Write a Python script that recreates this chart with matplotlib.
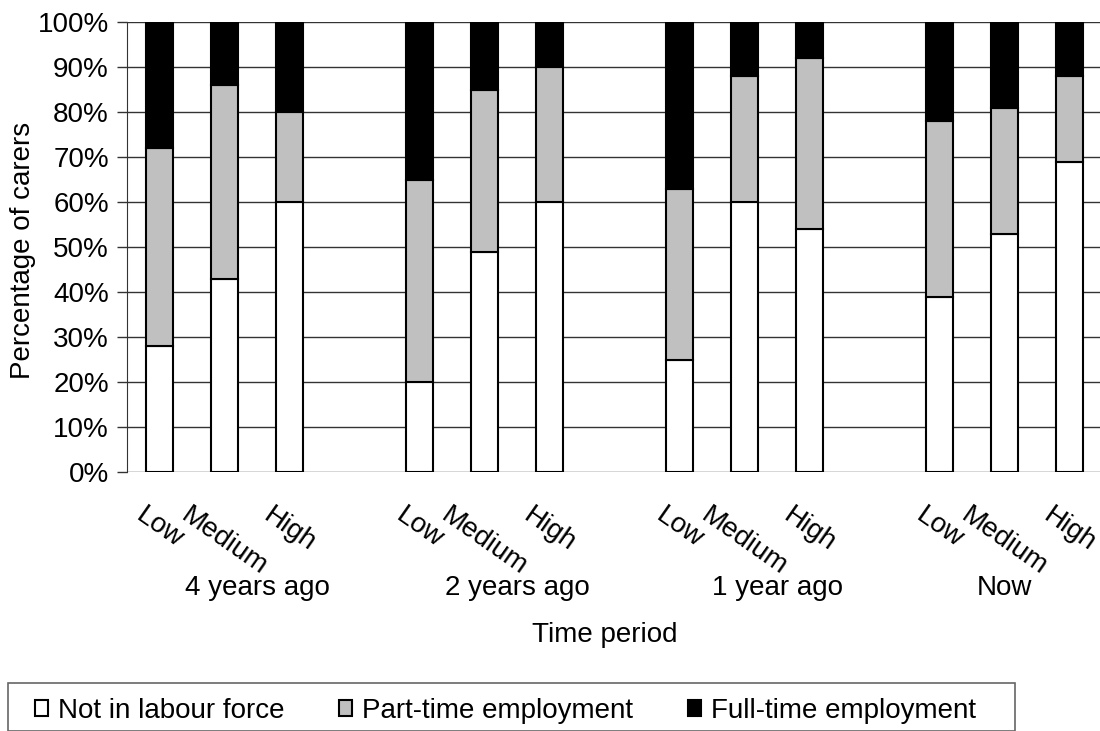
import numpy as np
from matplotlib import pyplot as plt
from matplotlib.patches import Rectangle

plt.rcParams['font.family'] = ['Liberation Sans', 'DejaVu Sans']

# carers by income level (Low / Medium / High) at each time period, in percent
periods = ['4 years ago', '2 years ago', '1 year ago', 'Now']
levels = ['Low', 'Medium', 'High']

not_in_labour = [28, 43, 60, 20, 49, 60, 25, 60, 54, 39, 53, 69]
part_time = [44, 43, 20, 45, 36, 30, 38, 28, 38, 39, 28, 19]
full_time = [28, 14, 20, 35, 15, 10, 37, 12, 8, 22, 19, 12]

series_names = ['Not in labour force', 'Part-time employment', 'Full-time employment']
series_colors = ['white', '#c0c0c0', 'black']

fs = 20

fig = plt.figure(figsize=(11, 7.31), dpi=100)
ax = fig.add_axes([127/1100, 1 - 472/731, 975/1100, 450/731])

# each period takes 3 slots plus an empty one between groups
x = np.array([g*4 + l for g in range(len(periods)) for l in range(len(levels))])
width = 0.42

bottom = np.zeros(len(x))
handles = []
for vals, name, col in zip([not_in_labour, part_time, full_time], series_names, series_colors):
    vals = np.array(vals, dtype=float)
    b = ax.bar(x, vals, width, bottom=bottom, color=col, edgecolor='black',
               linewidth=1.5, label=name, zorder=3)
    handles.append(b)
    bottom += vals

ax.set_xlim(-0.5, 14.5)
ax.set_ylim(0, 100)
ax.set_yticks(np.arange(0, 101, 10))
ax.set_yticklabels([f'{v}%' for v in range(0, 101, 10)], fontsize=fs)
ax.yaxis.grid(True, color='#333333', linewidth=1, zorder=0)
ax.set_axisbelow(True)

for s in ['top', 'right', 'bottom']:
    ax.spines[s].set_visible(False)
ax.spines['left'].set_color('#333333')
ax.tick_params(axis='y', length=7, width=1, color='#333333', pad=6)

ax.set_xticks(x)
ax.set_xticklabels(levels * len(periods), rotation=-35, ha='center', va='top', fontsize=fs)
ax.tick_params(axis='x', length=0, pad=22)

# period labels sit under the span of each group, blank slot included
trans = ax.get_xaxis_transform()
for g, p in enumerate(periods):
    last = g*4 + 2
    right = min(last + 1, x.max())
    ax.text((g*4 + right) / 2, -0.258, p, transform=trans, ha='center', va='center', fontsize=fs)

ax.text(0.49, -0.362, 'Time period', transform=ax.transAxes, ha='center', va='center', fontsize=fs)
fig.text(23/1100, 1 - 250/731, 'Percentage of carers', rotation=90,
         ha='center', va='center', fontsize=fs)

# legend box drawn separately so the padding can be set per side
fig.patches.append(Rectangle((8/1100, 0), (1015 - 8)/1100, 1 - 683/731,
                             transform=fig.transFigure, facecolor='none',
                             edgecolor='#666666', linewidth=1.2))
leg = fig.legend(handles=handles, loc='center left', bbox_to_anchor=(35/1100, 1 - 711/731),
                 ncol=3, fontsize=fs, frameon=False,
                 handlelength=0.47, handleheight=0.47, handletextpad=0.36,
                 columnspacing=1.97, borderpad=0, borderaxespad=0)

plt.savefig('out.png', dpi=100)
